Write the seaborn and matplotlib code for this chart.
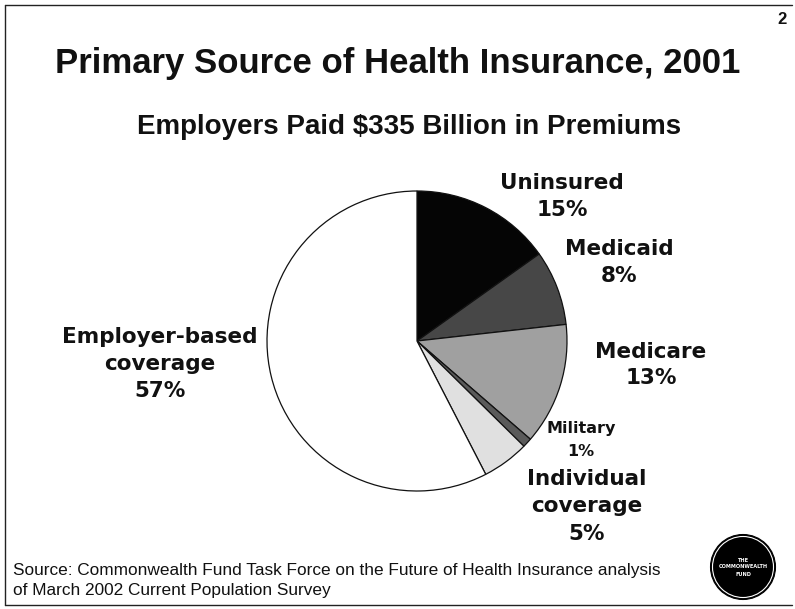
import matplotlib
matplotlib.use("Agg")
import matplotlib.pyplot as plt
import seaborn as sns
from matplotlib.patches import Circle
from matplotlib.lines import Line2D

# Coverage categories and shares (percent of population), clockwise from 12 o'clock
categories = ["Uninsured", "Medicaid", "Medicare", "Military",
              "Individual coverage", "Employer-based coverage"]
shares = [15, 8, 13, 1, 5, 57]
label_lines = [["Uninsured"], ["Medicaid"], ["Medicare"], ["Military"],
               ["Individual", "coverage"], ["Employer-based", "coverage"]]
wedge_colors = ["#050505", "#474747", "#a0a0a0", "#5a5a5a", "#e0e0e0", "#ffffff"]

sns.set_theme(style="white")
plt.rcParams["font.family"] = ["DejaVu Sans"]

W, H = 795, 609
fig = plt.figure(figsize=(W / 100, H / 100), dpi=100)
fig.patch.set_facecolor("white")


def fx(x):
    return x / W


def fy(y):
    return 1 - y / H


# Pie axes: center (417, 341) px, radius 150 px
cx, cy, r = 417, 341, 150
ax = fig.add_axes([fx(cx - r), fy(cy + r), 2 * r / W, 2 * r / H])
wedges, _ = ax.pie(shares, colors=wedge_colors, startangle=90, counterclock=False,
                   wedgeprops=dict(edgecolor="#111111", linewidth=0.9))
ax.set_xlim(-1, 1)
ax.set_ylim(-1, 1)
ax.set_aspect("auto")
ax.axis("off")

# Slide frame (top, left, bottom rules)
fig.add_artist(Line2D([fx(5), fx(792)], [fy(4.5), fy(4.5)], color="#222222", lw=1.0))
fig.add_artist(Line2D([fx(5), fx(5)], [fy(4.5), fy(605)], color="#222222", lw=1.0))
fig.add_artist(Line2D([fx(5), fx(792)], [fy(605), fy(605)], color="#222222", lw=1.0))

# Titles
fig.text(fx(398), fy(63), "Primary Source of Health Insurance, 2001",
         family="Liberation Sans", fontweight="bold", fontsize=25,
         ha="center", va="center", color="#111111")
fig.text(fx(409), fy(127), "Employers Paid $335 Billion in Premiums",
         family="Liberation Sans", fontweight="bold", fontsize=20,
         ha="center", va="center", color="#111111")
fig.text(fx(782), fy(19), "2", family="Liberation Sans", fontweight="bold",
         fontsize=12, ha="center", va="center", color="#111111")

# Slice labels: (x center, y of first line, line step, font size)
label_pos = [
    (562, 183, 27, 15.5),
    (619, 249, 27, 15.5),
    (651, 352, 26, 15.5),
    (581, 429, 22, 11.5),
    (587, 479, 27.5, 15.5),
    (160, 337, 27, 15.5),
]
for lines, share, (lx, ly, step, fs) in zip(label_lines, shares, label_pos):
    for i, txt in enumerate(lines + [f"{share}%"]):
        fig.text(fx(lx), fy(ly + i * step), txt, fontweight="bold", fontsize=fs,
                 ha="center", va="center", color="#111111")

# Source note
fig.text(fx(13), fy(571), "Source: Commonwealth Fund Task Force on the Future of Health Insurance analysis",
         family="Liberation Sans", fontsize=12.4, ha="left", va="center", color="#111111")
fig.text(fx(13), fy(590), "of March 2002 Current Population Survey",
         family="Liberation Sans", fontsize=12.4, ha="left", va="center", color="#111111")

# Fund logo
logo_ax = fig.add_axes([fx(743 - 34), fy(567 + 34), 68 / W, 68 / H])
logo_ax.set_xlim(-34, 34)
logo_ax.set_ylim(-34, 34)
logo_ax.axis("off")
logo_ax.add_patch(Circle((0, 0), 32.5, facecolor="black", edgecolor="black", lw=0.8))
logo_ax.add_patch(Circle((0, 0), 30.5, facecolor="none", edgecolor="white", lw=0.8))
for dy, word in zip([7, 0, -7], ["THE", "COMMONWEALTH", "FUND"]):
    logo_ax.text(0, dy, word, color="white", fontsize=3.6, fontweight="bold",
                 ha="center", va="center")

fig.savefig("out.png", dpi=100, facecolor="white")
